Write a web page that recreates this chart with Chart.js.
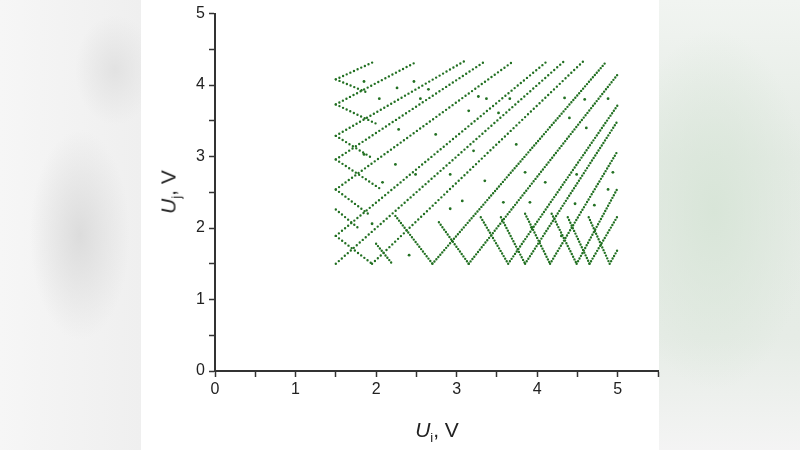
<!DOCTYPE html>
<html>
<head>
<meta charset="utf-8">
<script src="https://cdn.jsdelivr.net/npm/chart.js@4.4.1/dist/chart.umd.min.js"></script>
<style>
  html, body { margin: 0; padding: 0; }
  body {
    width: 800px; height: 450px; position: relative; overflow: hidden;
    background: #f1f1f1; font-family: "Liberation Sans", Arial, sans-serif;
  }
  #leftBlur {
    position: absolute; left: 0; top: 0; width: 141px; height: 450px;
    background:
      radial-gradient(ellipse 50px 105px at 80px 235px, #dcdcdc, rgba(238,238,238,0) 100%),
      radial-gradient(ellipse 40px 55px at 115px 70px, #e2e2e2, rgba(238,238,238,0) 100%),
      linear-gradient(to right, #f6f6f6, #efefef);
  }
  #rightBlur {
    position: absolute; left: 659px; top: 0; width: 141px; height: 450px;
    background:
      radial-gradient(ellipse 95px 180px at 55px 210px, #d8e5d8, rgba(232,239,232,0) 100%),
      linear-gradient(#f1f4f1, #e4ebe4 35%, #e6ece6 75%, #f4f4f4);
  }
  #panel { position: absolute; left: 141px; top: 0; width: 518px; height: 450px; background: #fff; }
  canvas { position: absolute; left: 0; top: 0; }
  .axis-title {
    position: absolute; font-size: 21px; line-height: 21px; color: #222; white-space: nowrap;
  }
  .axis-title i { font-style: italic; }
  .axis-title sub { font-size: 13px; vertical-align: -5px; line-height: 0; }
  #xTitle { left: 437px; top: 419px; transform: translateX(-50%); }
  #yTitle { left: 168px; top: 192px; transform: translate(-50%, -50%) rotate(-90deg); }
</style>
</head>
<body>
<div id="leftBlur"></div>
<div id="rightBlur"></div>
<div id="panel"></div>
<canvas id="chart" width="800" height="450"></canvas>
<div class="axis-title" id="xTitle"><i>U</i><sub>i</sub>, V</div>
<div class="axis-title" id="yTitle"><i>U</i><sub>j</sub>, V</div>
<script>
// rising dotted branches (start -> end)
const upX0 = [1.5, 1.5, 1.5, 1.5, 1.5, 1.5, 1.5, 1.95, 2.70, 3.15, 3.64, 3.85, 4.16, 4.49, 4.65, 4.90];
const upY0 = [4.08, 3.73, 3.29, 2.96, 2.54, 1.89, 1.5, 1.5, 1.5, 1.5, 1.5, 1.5, 1.5, 1.5, 1.5, 1.5];
const upX1 = [1.98, 2.51, 3.09, 3.35, 3.70, 4.12, 4.33, 4.57, 4.86, 5.0, 5.0, 5.0, 5.0, 5.0, 5.0, 5.0];
const upY1 = [4.33, 4.33, 4.33, 4.33, 4.33, 4.33, 4.33, 4.33, 4.33, 4.15, 3.72, 3.50, 3.08, 2.56, 2.17, 1.70];

// falling dotted branches (left "<" arms and bottom "V" arms)
const downX0 = [1.5, 1.5, 1.5, 1.5, 1.5, 1.5, 1.5, 2.00, 2.24, 2.78, 3.30, 3.55, 3.85, 4.18, 4.38, 4.64];
const downY0 = [4.08, 3.73, 3.29, 2.96, 2.54, 2.26, 1.89, 1.78, 2.17, 2.08, 2.15, 2.15, 2.20, 2.20, 2.15, 2.15];
const downX1 = [1.88, 2.02, 1.95, 2.05, 1.90, 1.80, 1.95, 2.20, 2.70, 3.15, 3.64, 3.85, 4.16, 4.49, 4.65, 4.90];
const downY1 = [3.90, 3.45, 2.98, 2.55, 2.20, 1.98, 1.5, 1.5, 1.5, 1.5, 1.5, 1.5, 1.5, 1.5, 1.5, 1.5];

// scattered single points
const dotX = [1.85, 2.04, 2.26, 2.47, 2.65, 2.55, 3.15, 3.27, 3.37, 3.66, 4.34, 4.59, 4.88, 4.40, 4.61,
              2.74, 2.28, 3.21, 3.74, 3.52, 1.85, 2.24, 2.49, 2.92, 3.07, 3.35, 3.58, 3.85, 4.10, 4.49,
              4.94, 3.91, 4.47, 4.71, 1.95, 2.41, 3.93, 4.30, 4.88, 2.92, 2.08];
const dotY = [4.05, 3.81, 3.96, 4.05, 3.94, 3.81, 3.64, 3.84, 3.81, 3.81, 3.82, 3.80, 3.81, 3.54, 3.40,
              3.31, 3.38, 3.08, 3.17, 3.61, 3.03, 2.89, 2.75, 2.75, 2.38, 2.66, 2.36, 2.78, 2.64, 2.75,
              2.78, 2.36, 2.34, 2.32, 2.06, 1.62, 2.01, 1.89, 2.54, 2.27, 2.64];

const xMax = 5.5;
const yMax = 5;
const tickStep = 0.5;

const green = 'rgb(34, 112, 34)';
const axisColor = '#333';
const tickFont = { family: 'Liberation Sans', size: 16 };

function dottedSegment(x0, y0, x1, y1) {
  const slope = Math.abs((y1 - y0) / (x1 - x0));
  return {
    type: 'scatter',
    data: [{ x: x0, y: y0 }, { x: x1, y: y1 }],
    showLine: true,
    borderColor: green,
    borderWidth: 2.4,
    borderDash: [0, slope > 1.2 ? 3.0 : 4.0],
    borderCapStyle: 'round',
    pointRadius: 0,
    pointHoverRadius: 0,
    tension: 0,
    fill: false
  };
}

const datasets = [];
upX0.forEach((x, i) => datasets.push(dottedSegment(x, upY0[i], upX1[i], upY1[i])));
downX0.forEach((x, i) => datasets.push(dottedSegment(x, downY0[i], downX1[i], downY1[i])));
datasets.push({
  type: 'scatter',
  data: dotX.map((x, i) => ({ x: x, y: dotY[i] })),
  pointRadius: 1.4,
  pointBackgroundColor: green,
  pointBorderWidth: 0,
  showLine: false
});

const intLabel = (max) => (v) => (Number.isInteger(v) && v <= max ? String(v) : '');

new Chart(document.getElementById('chart'), {
  type: 'scatter',
  data: { datasets: datasets },
  options: {
    responsive: false,
    animation: false,
    events: [],
    layout: { padding: { top: 12, right: 142, left: 0, bottom: 0 } },
    plugins: { legend: { display: false }, tooltip: { enabled: false } },
    scales: {
      x: {
        type: 'linear', min: 0, max: xMax,
        ticks: { stepSize: tickStep, autoSkip: false, maxRotation: 0, padding: 3,
                 color: '#222', font: tickFont, callback: intLabel(5) },
        grid: { display: true, drawOnChartArea: false, drawTicks: true,
                tickLength: 6, tickWidth: 1.5, tickColor: axisColor },
        border: { display: true, color: axisColor, width: 2 },
        afterFit: (s) => { s.height = 79; }
      },
      y: {
        type: 'linear', min: 0, max: yMax,
        ticks: { stepSize: tickStep, autoSkip: false, padding: 4,
                 color: '#222', font: tickFont, callback: intLabel(5) },
        grid: { display: true, drawOnChartArea: false, drawTicks: true,
                tickLength: 6, tickWidth: 1.5, tickColor: axisColor },
        border: { display: true, color: axisColor, width: 2 },
        afterFit: (s) => { s.width = 215; }
      }
    }
  }
});
</script>
</body>
</html>
